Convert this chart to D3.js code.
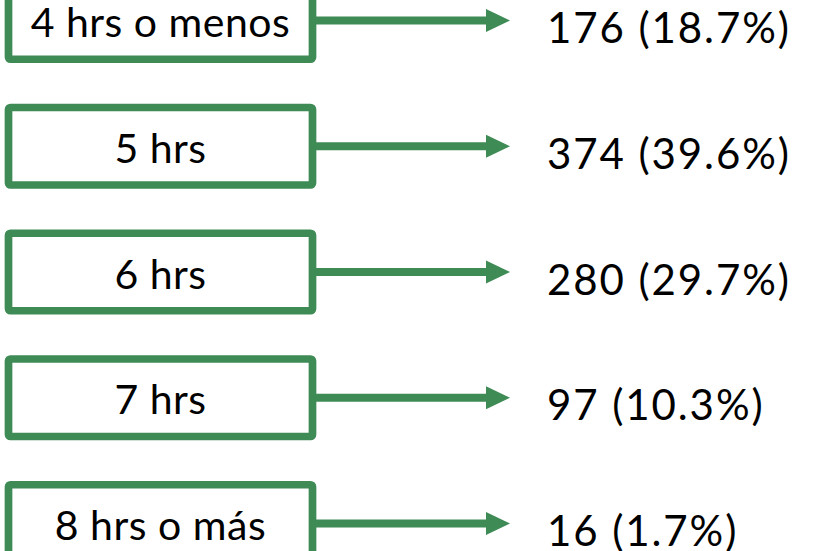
<!DOCTYPE html>
<html>
<head>
<meta charset="utf-8">
<script src="https://cdn.jsdelivr.net/npm/d3@7"></script>
<style>
  html, body { margin: 0; padding: 0; background: #fff; }
  svg { display: block; }
  .label, .value { font-family: Lato, "Noto Sans", sans-serif; fill: #000; }
</style>
</head>
<body>
<svg width="818" height="551"></svg>
<script>
// chart data
const categories = ['4 hrs o menos', '5 hrs', '6 hrs', '7 hrs', '8 hrs o más']
const counts = [176, 374, 280, 97, 16]
const percents = [18.7, 39.6, 29.7, 10.3, 1.7]

const green = '#3f8b56'

const svg = d3.select('svg')

const data = categories.map((c, i) => ({cat: c, n: counts[i], pct: percents[i]}))

// vertical placement of each row (box centers)
const y = d3.scalePoint()
  .domain(categories)
  .range([20.5, 523.5])

const box = {x: 8.5, w: 304, h: 77.5, stroke: 7.7},
arrow = {x0: 316, x1: 510, head: 24, half: 11.5, stroke: 8},
valueX = 547

const rows = svg
  .selectAll('.row')
  .data(data)
  .enter()
  .append('g')
  .attr('class', 'row')
  .attr('transform', d => `translate(0, ${y(d.cat)})`)

// boxes
rows
  .append('rect')
  .attr('x', box.x)
  .attr('y', -box.h / 2)
  .attr('width', box.w)
  .attr('height', box.h)
  .attr('rx', 2)
  .attr('fill', 'white')
  .attr('stroke', green)
  .attr('stroke-width', box.stroke)

// box labels
rows
  .append('text')
  .attr('class', 'label')
  .attr('x', box.x + box.w / 2)
  .attr('y', 16.5)
  .attr('text-anchor', 'middle')
  .attr('font-size', 41)
  .attr('letter-spacing', 0.5)
  .text(d => d.cat)

// arrows: shaft + head
rows
  .append('line')
  .attr('x1', arrow.x0)
  .attr('x2', arrow.x1 - arrow.head + 1)
  .attr('y1', 0)
  .attr('y2', 0)
  .attr('stroke', green)
  .attr('stroke-width', arrow.stroke)

rows
  .append('path')
  .attr('d', `M${arrow.x1 - arrow.head},${-arrow.half}L${arrow.x1},0L${arrow.x1 - arrow.head},${arrow.half}Z`)
  .attr('fill', green)

// values
rows
  .append('text')
  .attr('class', 'value')
  .attr('x', valueX)
  .attr('y', 22.5)
  .attr('font-size', 42)
  .attr('letter-spacing', 1.9)
  .text(d => `${d.n} (${d.pct.toFixed(1)}%)`)
</script>
</body>
</html>
